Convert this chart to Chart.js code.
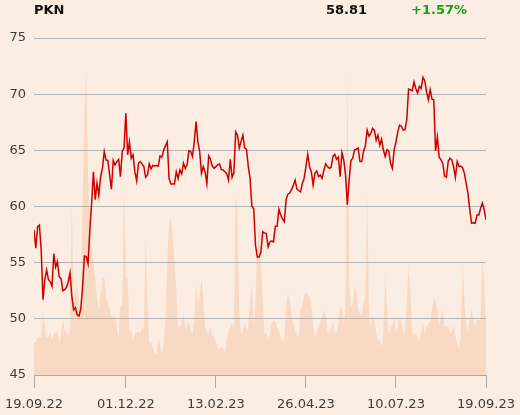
<!DOCTYPE html>
<html><head><meta charset="utf-8">
<script src="https://cdn.jsdelivr.net/npm/chart.js@4/dist/chart.umd.min.js"></script>
<style>
html,body{margin:0;padding:0;background:#fbede1;}
#wrap{position:relative;width:520px;height:415px;overflow:hidden;}
canvas{position:absolute;left:0;top:0;}
.hd{position:absolute;top:2px;font:bold 13px "DejaVu Sans";line-height:16px;color:#111;white-space:nowrap;}
</style></head><body>
<div id="wrap">
<canvas id="c" width="520" height="415"></canvas>
<span class="hd" id="t1" style="left:34px"></span>
<span class="hd" id="t2" style="left:326px"></span>
<span class="hd" id="t3" style="left:411px;color:#17a017"></span>
</div>
<script>
const ticker = 'PKN';
const lastPrice = '58.81';
const change = '+1.57%';
const tickIdx = [0, 51, 101, 151, 201, 251];
const tickLabels = ['19.09.22', '01.12.22', '13.02.23', '26.04.23', '10.07.23', '19.09.23'];
const prices = [
57.9,56.3,58.2,58.35,56.1,51.7,53.5,54.35,53.5,53.3,
52.9,55.8,54.6,55.1,53.75,53.6,52.5,52.6,52.8,53.3,
54.1,52.0,50.8,51.0,50.35,50.25,50.9,52.85,55.6,55.55,
54.9,57.9,60.3,63.1,60.6,62.1,61.0,62.65,63.4,64.9,
64.15,64.1,62.8,61.55,64.1,63.7,64.0,64.2,62.65,64.9,
65.2,68.3,64.6,65.75,64.3,64.6,63.1,62.3,63.85,64.0,
63.8,63.55,62.6,62.8,63.8,63.35,63.65,63.6,63.65,63.6,
64.5,64.4,65.0,65.4,65.75,62.5,62.0,62.0,62.0,63.1,
62.5,63.25,62.9,63.85,63.4,63.7,64.95,64.9,64.45,65.75,
67.55,65.75,64.9,62.95,63.55,63.1,62.05,64.5,64.2,63.6,
63.4,63.55,63.7,63.8,63.3,63.25,63.1,62.95,62.35,64.2,
62.6,63.0,66.65,66.35,65.2,65.8,66.35,65.2,65.1,63.55,
62.5,60.0,59.8,56.55,55.5,55.5,55.95,57.75,57.65,57.6,
56.4,56.85,56.95,56.85,58.25,58.25,59.75,59.25,58.9,58.65,
60.6,61.1,61.2,61.5,61.9,62.35,61.55,61.4,61.3,62.05,
62.5,63.55,64.65,63.55,63.1,61.9,62.95,63.15,62.65,62.8,
62.5,63.25,63.8,63.55,63.4,63.5,64.45,64.65,64.2,64.4,
62.65,64.8,64.15,62.8,60.15,62.35,64.1,64.3,65.05,65.1,
65.2,64.0,64.0,64.9,65.4,66.8,66.25,66.5,66.95,66.8,
65.9,66.35,65.45,66.0,65.05,64.45,65.05,64.95,63.85,63.4,
65.05,65.75,66.65,67.25,67.15,66.8,66.85,67.7,70.45,70.4,
70.3,71.1,70.5,70.1,70.7,70.5,71.5,71.2,70.2,69.5,
70.4,69.55,69.5,64.95,66.2,64.4,64.15,63.85,62.7,62.6,
64.0,64.3,64.15,63.55,62.6,64.0,63.55,63.6,63.45,62.95,
62.05,61.15,59.7,58.5,58.55,58.5,59.25,59.25,59.85,60.3,
59.7,58.81
];
const volumes = [
3.9,3.9,4.5,4.5,4.5,7.5,5.7,4.5,4.5,5.0,
4.2,5.0,5.0,5.3,3.8,4.7,6.8,5.3,5.0,4.7,
5.3,20.4,8.3,10.1,10.4,8.1,8.3,20.8,30.9,36.0,
23.7,17.8,15.2,13.3,11.6,9.3,7.4,9.7,11.4,11.5,
9.3,8.5,7.7,6.9,6.9,7.1,5.6,4.5,8.1,8.1,
22.6,11.6,11.3,5.0,5.3,4.2,5.0,5.1,5.1,5.0,
5.7,5.3,16.0,8.9,3.8,3.8,3.3,2.6,2.4,4.4,
3.6,2.6,3.6,6.5,13.1,17.8,19.0,16.6,13.1,10.1,
5.9,5.6,6.2,7.4,5.3,5.9,6.3,5.3,4.7,6.5,
10.7,8.3,9.5,11.5,8.9,5.7,5.0,5.0,5.6,4.7,
4.5,3.8,3.2,3.0,3.3,3.2,2.6,4.2,5.3,5.6,
6.2,5.3,21.4,19.0,7.1,4.7,5.3,6.2,5.3,5.6,
8.9,10.7,5.3,8.9,15.4,18.6,13.1,8.9,4.7,5.0,
4.4,4.7,6.2,6.5,6.3,5.7,5.1,4.5,3.9,4.2,
8.1,9.7,8.9,7.1,6.2,5.3,4.7,4.5,7.7,8.1,
9.5,9.9,9.5,9.3,8.1,5.9,4.5,5.0,5.7,6.2,
6.9,7.7,7.1,5.0,5.1,5.7,6.3,5.0,5.1,5.9,
8.1,8.1,5.9,7.7,36.0,11.3,8.1,8.5,10.7,9.7,
7.7,7.4,6.9,8.7,8.9,21.7,7.7,5.3,7.1,6.5,
5.0,4.2,4.2,3.3,4.7,12.2,7.7,4.5,5.6,5.9,
6.9,5.0,5.7,6.9,6.2,5.0,5.0,8.3,12.8,10.1,
5.0,4.7,5.0,4.2,3.9,5.0,6.3,4.7,5.9,5.9,
6.5,7.7,9.1,8.9,7.7,5.9,7.1,7.7,5.7,5.9,
5.6,5.0,5.0,5.9,4.7,3.8,3.3,4.7,13.1,8.9,
5.7,5.3,6.8,7.7,6.5,5.7,6.5,6.5,6.5,14.2,
10.7,5.3
];

document.getElementById('t1').textContent = ticker;
document.getElementById('t2').textContent = lastPrice;
document.getElementById('t3').textContent = change;

Chart.defaults.font.family = '"DejaVu Sans", sans-serif';
new Chart(document.getElementById('c').getContext('2d'), {
  type: 'line',
  data: {
    datasets: [
      {
        data: prices.map((v, i) => ({x: i, y: v})),
        borderColor: '#cc0000', borderWidth: 1.5, pointRadius: 0, tension: 0,
        fill: false, yAxisID: 'y', order: 0
      },
      {
        data: volumes.map((v, i) => ({x: i, y: v})),
        backgroundColor: 'rgba(239,172,128,0.3)', borderWidth: 0, pointRadius: 0,
        tension: 0, fill: 'origin', yAxisID: 'yv', order: 1
      }
    ]
  },
  options: {
    animation: false, responsive: false, events: [],
    layout: {padding: {left: 0, right: 34, top: 38, bottom: 0}},
    plugins: {legend: {display: false}, tooltip: {enabled: false}},
    scales: {
      x: {
        type: 'linear', min: 0, max: prices.length - 1,
        afterBuildTicks: s => { s.ticks = tickIdx.map(v => ({value: v})); },
        ticks: {
          callback: v => tickLabels[tickIdx.indexOf(v)],
          color: '#3c3c3c', font: {size: 13}, padding: 9, maxRotation: 0, autoSkip: false
        },
        grid: {drawOnChartArea: false, drawTicks: true, tickLength: 13, color: '#a9a9a9'},
        border: {color: '#a9a9a9'},
        afterFit: s => { s.height = 40; s.paddingLeft = 0; s.paddingRight = 0; }
      },
      y: {
        min: 45, max: 75,
        ticks: {stepSize: 5, color: '#3c3c3c', font: {size: 13}, padding: 8},
        grid: {color: '#b4b4b4', drawTicks: false},
        border: {display: false},
        afterFit: s => { s.width = 34; }
      },
      yv: {display: false, min: 0, max: 40}
    }
  }
});
</script>
</body></html>
